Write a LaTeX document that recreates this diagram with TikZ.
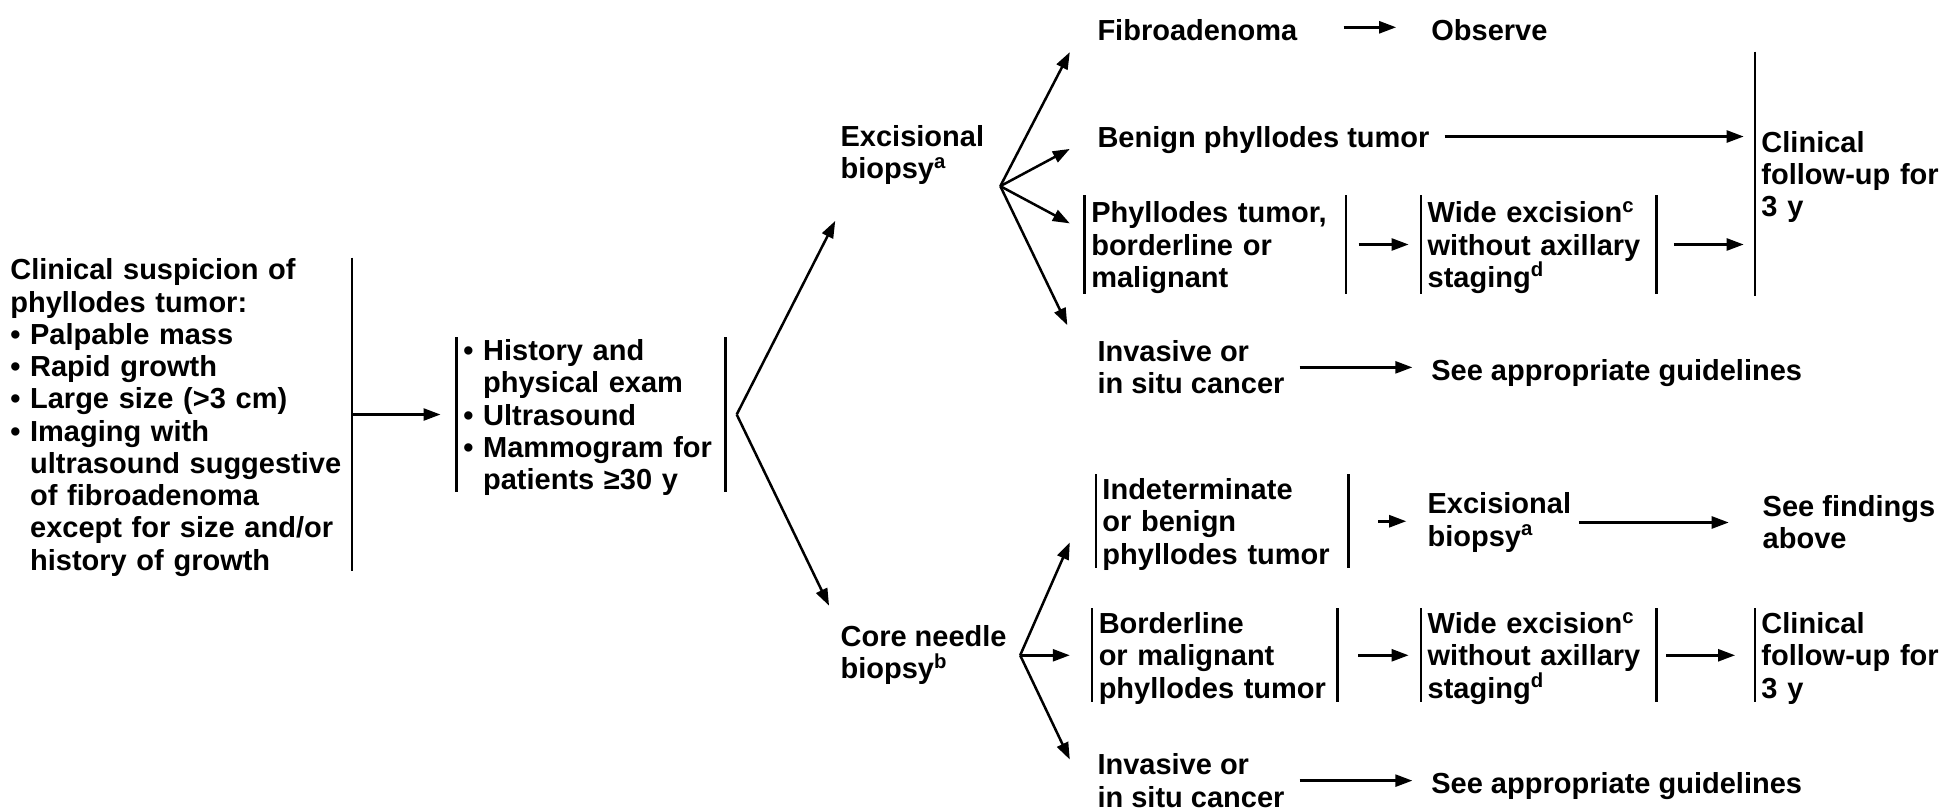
\documentclass[tikz,border=0pt]{standalone}
\usepackage{fontspec}
\setmainfont{Liberation Sans}
\usetikzlibrary{arrows.meta,calc}
\newcommand\bi{\hphantom{•\ }}
\tikzset{
  txt/.style={font=\bfseries\fontsize{14.5pt}{16.13pt}\selectfont, align=left, anchor=west, inner sep=0pt,
    execute at begin node={\vrule height 13.6pt width 0pt}},
  boxed/.style={txt, inner xsep=3.1pt, inner ysep=-3pt, minimum height=#1},
  bar/.style={line width=1.3pt},
  arr/.style={line width=1.25pt, -{Triangle[length=8.5pt,width=6pt]}},
}
\begin{document}
\begin{tikzpicture}[x=0.6205pt, y=-0.6205pt]
\useasboundingbox (0,0) rectangle (1568,653);

% nodes
\node[txt, inner ysep=-3pt, text width=170.6pt, minimum height=156.4pt] (susp) at (8,334)
 {Clinical suspicion of\\phyllodes tumor:\\• Palpable mass\\• Rapid growth\\• Large size (>3 cm)\\• Imaging with\\\bi ultrasound suggestive\\\bi of fibroadenoma\\\bi except for size and/or\\\bi history of growth};
\node[boxed=76.9pt, text width=127.8pt] (mid) at (368,334)
 {• History and\\\bi physical exam\\• Ultrasound\\• Mammogram for\\\bi patients ≥30 y};

\node[txt] (exc) at (677,125) {Excisional\\biopsy\textsuperscript{a}};
\node[txt] (core) at (677,528) {Core needle\\biopsy\textsuperscript{b}};

\node[txt] (fib) at (884,22) {Fibroadenoma};
\node[txt] (obs) at (1153,22) {Observe};
\node[txt] (ben) at (884,110) {Benign phyllodes tumor};
\node[boxed=49pt, text width=124.1pt] (phy) at (874,197) {Phyllodes tumor,\\borderline or\\malignant};
\node[boxed=49pt, text width=111.1pt] (wex1) at (1145,197) {Wide excision\textsuperscript{c}\\without axillary\\staging\textsuperscript{d}};
\node[boxed=121.6pt, text width=93pt] (fu1) at (1414,140) {Clinical\\follow-up for\\3 y};
\node[txt] (inv1) at (884,296) {Invasive or\\in situ cancer};
\node[txt] (gd1) at (1153,298) {See appropriate guidelines};

\node[boxed=46.5pt, text width=119.8pt] (ind) at (883,420) {Indeterminate\\or benign\\phyllodes tumor};
\node[txt] (exc2) at (1150,421) {Excisional\\biopsy\textsuperscript{a}};
\node[txt] (seef) at (1420,421) {See findings\\above};
\node[boxed=46.5pt, text width=116pt] (bor) at (880,528) {Borderline\\or malignant\\phyllodes tumor};
\node[boxed=46.5pt, text width=111.1pt] (wex2) at (1145,528) {Wide excision\textsuperscript{c}\\without axillary\\staging\textsuperscript{d}};
\node[boxed=46.5pt, text width=93pt] (fu2) at (1414,528) {Clinical\\follow-up for\\3 y};
\node[txt] (inv2) at (884,629) {Invasive or\\in situ cancer};
\node[txt] (gd2) at (1153,631) {See appropriate guidelines};

% bars
\draw[bar] (susp.north east) -- (susp.south east);
\draw[bar] (mid.north west) -- (mid.south west) (mid.north east) -- (mid.south east);
\draw[bar] (phy.north west) -- (phy.south west) (phy.north east) -- (phy.south east);
\draw[bar] (wex1.north west) -- (wex1.south west) (wex1.north east) -- (wex1.south east);
\draw[bar] (fu1.north west) -- (fu1.south west);
\draw[bar] (ind.north west) -- (ind.south west) (ind.north east) -- (ind.south east);
\draw[bar] (bor.north west) -- (bor.south west) (bor.north east) -- (bor.south east);
\draw[bar] (wex2.north west) -- (wex2.south west) (wex2.north east) -- (wex2.south east);
\draw[bar] (fu2.north west) -- (fu2.south west);

% fork points and arrow tips
\coordinate (f0) at ($(mid.east)+(9,0)$);
\coordinate (f1) at (806,150);
\coordinate (f2) at (822,528);
\coordinate (t-exc) at (673,178);
\coordinate (t-core) at (668,488);
\coordinate (t-fib) at (862,42);
\coordinate (t-ben) at (862,120);
\coordinate (t-phy) at (862,180);
\coordinate (t-inv1) at (860,262);
\coordinate (t-ind) at (862,437);
\coordinate (t-bor) at (862,528);
\coordinate (t-inv2) at (862,612);

% connectors
\draw[arr, shorten >=8.1pt] (susp.east) -- (mid.west);
\draw[arr] (f0) -- (t-exc);
\draw[arr] (f0) -- (t-core);
\draw[arr] (f1) -- (t-fib);
\draw[arr] (f1) -- (t-ben);
\draw[arr] (f1) -- (t-phy);
\draw[arr] (f1) -- (t-inv1);
\draw[arr] (f2) -- (t-ind);
\draw[arr] (f2) -- (t-bor);
\draw[arr] (f2) -- (t-inv2);

\draw[arr, shorten <=23pt, shorten >=17.4pt] (fib.east) -- (fib.east -| obs.west);
\draw[arr, shorten <=7.4pt, shorten >=5.6pt] (ben.east) -- (ben.east -| fu1.west);
\draw[arr, shorten <=6.2pt, shorten >=6.2pt] (phy.east) -- (wex1.west);
\draw[arr, shorten <=8.7pt, shorten >=5.6pt] (wex1.east) -- (wex1.east -| fu1.west);
\draw[arr, shorten <=7.4pt, shorten >=9.3pt] (inv1.east) -- (inv1.east -| gd1.west);

\draw[arr, shorten <=14.9pt, shorten >=10.5pt] (ind.east) -- (ind.east -| exc2.west);
\draw[arr, shorten <=3.7pt, shorten >=16.8pt] (exc2.east) -- (exc2.east -| seef.west);
\draw[arr, shorten <=10.5pt, shorten >=6.2pt] (bor.east) -- (wex2.west);
\draw[arr, shorten <=5pt, shorten >=9.9pt] (wex2.east) -- (fu2.west);
\draw[arr, shorten <=7.4pt, shorten >=9.3pt] (inv2.east) -- (inv2.east -| gd2.west);
\end{tikzpicture}
\end{document}
